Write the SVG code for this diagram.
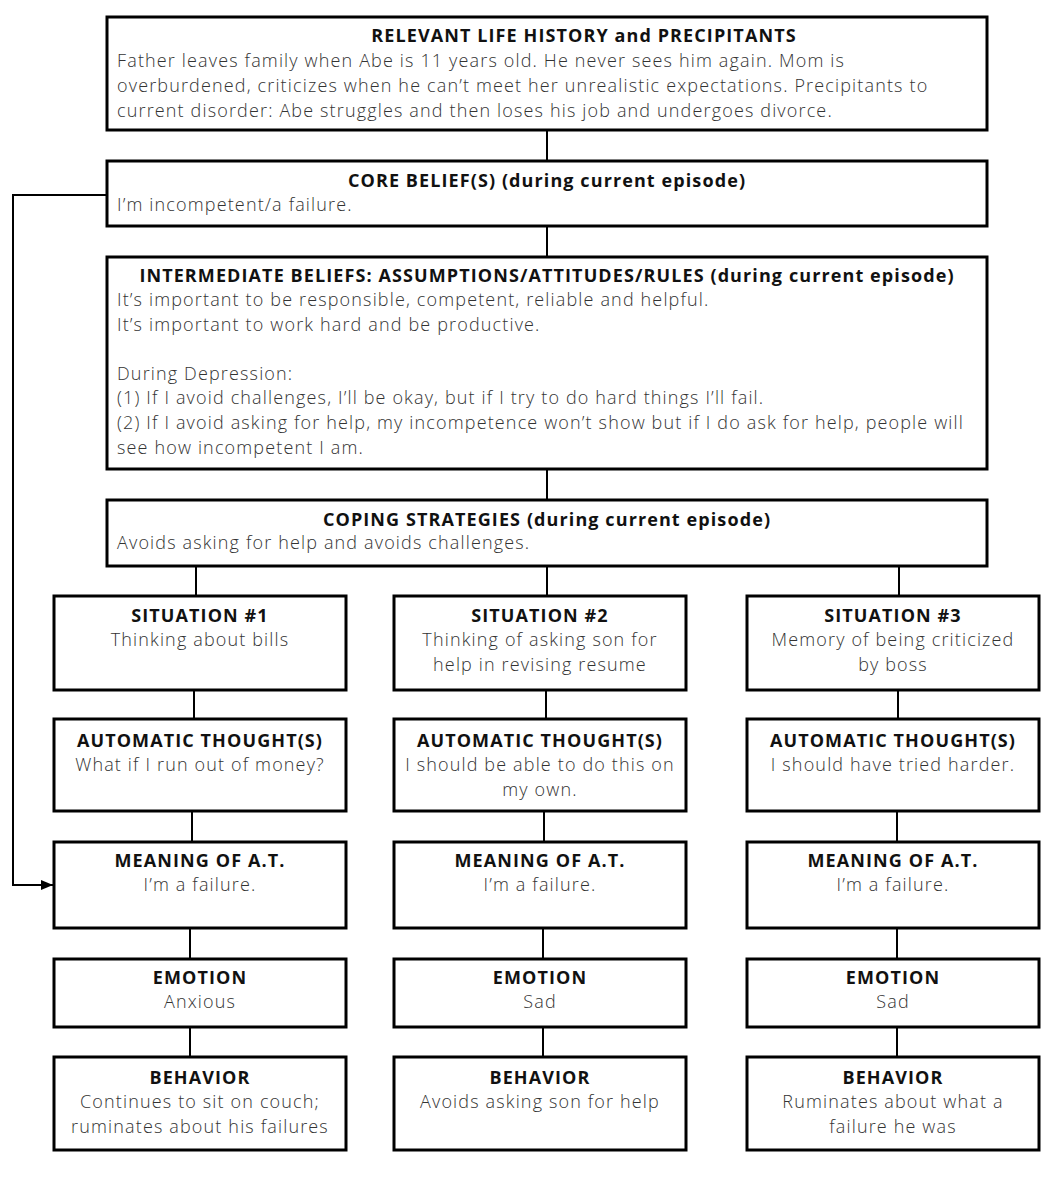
<svg xmlns="http://www.w3.org/2000/svg" width="1054" height="1179" viewBox="0 0 1054 1179">
<defs>
<style>
.box{fill:#fff;stroke:#000;stroke-width:3}
.ln{fill:none;stroke:#000;stroke-width:2}
.t{font-family:"Open Sans","Lato","Liberation Sans",sans-serif;font-size:18px;font-weight:700;fill:#111;text-anchor:middle;letter-spacing:1.1px}
.b{font-family:"Open Sans","Lato","Liberation Sans",sans-serif;font-size:18px;font-weight:300;fill:#333;letter-spacing:1.15px}
.c{text-anchor:middle}
</style>
<marker id="arr" viewBox="0 0 12 10" refX="12" refY="5" markerWidth="12" markerHeight="10" markerUnits="userSpaceOnUse" orient="auto">
<path d="M0,0 L12,5 L0,10 z" fill="#000"/>
</marker>
</defs>
<rect width="1054" height="1179" fill="#fff"/>
<g id="connectors">
<line class="ln" x1="547" y1="130" x2="547" y2="161"/>
<line class="ln" x1="547" y1="226" x2="547" y2="257"/>
<line class="ln" x1="547" y1="469" x2="547" y2="500"/>
<line class="ln" x1="196" y1="566" x2="196" y2="596"/>
<line class="ln" x1="547" y1="566" x2="547" y2="596"/>
<line class="ln" x1="899" y1="566" x2="899" y2="596"/>
<line class="ln" x1="194" y1="690" x2="194" y2="719"/>
<line class="ln" x1="192" y1="811" x2="192" y2="842"/>
<line class="ln" x1="190" y1="928" x2="190" y2="959"/>
<line class="ln" x1="190" y1="1027" x2="190" y2="1057"/>
<line class="ln" x1="546" y1="690" x2="546" y2="719"/>
<line class="ln" x1="544" y1="811" x2="544" y2="842"/>
<line class="ln" x1="543" y1="928" x2="543" y2="959"/>
<line class="ln" x1="543" y1="1027" x2="543" y2="1057"/>
<line class="ln" x1="898" y1="690" x2="898" y2="719"/>
<line class="ln" x1="897" y1="811" x2="897" y2="842"/>
<line class="ln" x1="897" y1="928" x2="897" y2="959"/>
<line class="ln" x1="897" y1="1027" x2="897" y2="1057"/>
<polyline class="ln" points="107,195 13,195 13,885 53,885" marker-end="url(#arr)"/>
</g>
<g id="history">
<rect class="box" x="107" y="17" width="880" height="113"/>
<text class="t" x="584" y="42">RELEVANT LIFE HISTORY and PRECIPITANTS</text>
<text class="b" x="117" y="67">Father leaves family when Abe is 11 years old. He never sees him again. Mom is</text>
<text class="b" x="117" y="92">overburdened, criticizes when he can’t meet her unrealistic expectations. Precipitants to</text>
<text class="b" x="117" y="117">current disorder: Abe struggles and then loses his job and undergoes divorce.</text>
</g>
<g id="core">
<rect class="box" x="107" y="161" width="880" height="65"/>
<text class="t" x="547" y="187">CORE BELIEF(S) (during current episode)</text>
<text class="b" x="117" y="211">I’m incompetent/a failure.</text>
</g>
<g id="intermediate">
<rect class="box" x="107" y="257" width="880" height="212"/>
<text class="t" x="547" y="282">INTERMEDIATE BELIEFS: ASSUMPTIONS/ATTITUDES/RULES (during current episode)</text>
<text class="b" x="117" y="306">It’s important to be responsible, competent, reliable and helpful.</text>
<text class="b" x="117" y="331">It’s important to work hard and be productive.</text>
<text class="b" x="117" y="380">During Depression:</text>
<text class="b" x="117" y="404">(1) If I avoid challenges, I’ll be okay, but if I try to do hard things I’ll fail.</text>
<text class="b" x="117" y="429">(2) If I avoid asking for help, my incompetence won’t show but if I do ask for help, people will</text>
<text class="b" x="117" y="454">see how incompetent I am.</text>
</g>
<g id="coping">
<rect class="box" x="107" y="500" width="880" height="66"/>
<text class="t" x="547" y="526">COPING STRATEGIES (during current episode)</text>
<text class="b" x="117" y="549">Avoids asking for help and avoids challenges.</text>
</g>
<g id="sit1">
<rect class="box" x="54" y="596" width="292" height="94"/>
<text class="t" x="200" y="622">SITUATION #1</text>
<text class="b c" x="200" y="646">Thinking about bills</text>
</g>
<g id="sit2">
<rect class="box" x="394" y="596" width="292" height="94"/>
<text class="t" x="540" y="622">SITUATION #2</text>
<text class="b c" x="540" y="646">Thinking of asking son for</text>
<text class="b c" x="540" y="671">help in revising resume</text>
</g>
<g id="sit3">
<rect class="box" x="747" y="596" width="292" height="94"/>
<text class="t" x="893" y="622">SITUATION #3</text>
<text class="b c" x="893" y="646">Memory of being criticized</text>
<text class="b c" x="893" y="671">by boss</text>
</g>
<g id="at1">
<rect class="box" x="54" y="719" width="292" height="92"/>
<text class="t" x="200" y="747">AUTOMATIC THOUGHT(S)</text>
<text class="b c" x="200" y="771">What if I run out of money?</text>
</g>
<g id="at2">
<rect class="box" x="394" y="719" width="292" height="92"/>
<text class="t" x="540" y="747">AUTOMATIC THOUGHT(S)</text>
<text class="b c" x="540" y="771">I should be able to do this on</text>
<text class="b c" x="540" y="796">my own.</text>
</g>
<g id="at3">
<rect class="box" x="747" y="719" width="292" height="92"/>
<text class="t" x="893" y="747">AUTOMATIC THOUGHT(S)</text>
<text class="b c" x="893" y="771">I should have tried harder.</text>
</g>
<g id="mean1">
<rect class="box" x="54" y="842" width="292" height="86"/>
<text class="t" x="200" y="867">MEANING OF A.T.</text>
<text class="b c" x="200" y="891">I’m a failure.</text>
</g>
<g id="mean2">
<rect class="box" x="394" y="842" width="292" height="86"/>
<text class="t" x="540" y="867">MEANING OF A.T.</text>
<text class="b c" x="540" y="891">I’m a failure.</text>
</g>
<g id="mean3">
<rect class="box" x="747" y="842" width="292" height="86"/>
<text class="t" x="893" y="867">MEANING OF A.T.</text>
<text class="b c" x="893" y="891">I’m a failure.</text>
</g>
<g id="emo1">
<rect class="box" x="54" y="959" width="292" height="68"/>
<text class="t" x="200" y="984">EMOTION</text>
<text class="b c" x="200" y="1008">Anxious</text>
</g>
<g id="emo2">
<rect class="box" x="394" y="959" width="292" height="68"/>
<text class="t" x="540" y="984">EMOTION</text>
<text class="b c" x="540" y="1008">Sad</text>
</g>
<g id="emo3">
<rect class="box" x="747" y="959" width="292" height="68"/>
<text class="t" x="893" y="984">EMOTION</text>
<text class="b c" x="893" y="1008">Sad</text>
</g>
<g id="beh1">
<rect class="box" x="54" y="1057" width="292" height="93"/>
<text class="t" x="200" y="1084">BEHAVIOR</text>
<text class="b c" x="200" y="1108">Continues to sit on couch;</text>
<text class="b c" x="200" y="1133">ruminates about his failures</text>
</g>
<g id="beh2">
<rect class="box" x="394" y="1057" width="292" height="93"/>
<text class="t" x="540" y="1084">BEHAVIOR</text>
<text class="b c" x="540" y="1108">Avoids asking son for help</text>
</g>
<g id="beh3">
<rect class="box" x="747" y="1057" width="292" height="93"/>
<text class="t" x="893" y="1084">BEHAVIOR</text>
<text class="b c" x="893" y="1108">Ruminates about what a</text>
<text class="b c" x="893" y="1133">failure he was</text>
</g>
</svg>
